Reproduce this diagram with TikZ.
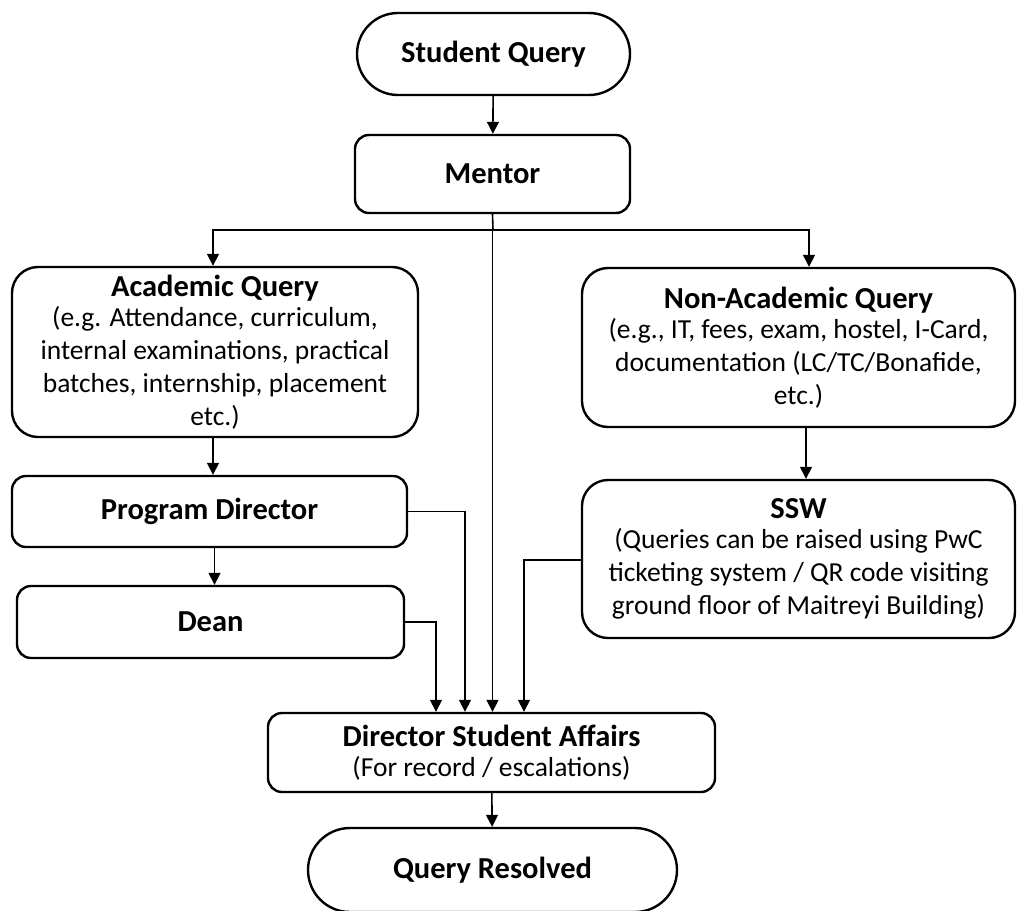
\documentclass[tikz,border=0pt]{standalone}
\usepackage{fontspec}
\setmainfont{Carlito}
\usetikzlibrary{arrows.meta,shapes.misc}

\newcommand{\hd}[1]{{\fontsize{30.5}{34}\selectfont\bfseries #1}}

\begin{document}
\begin{tikzpicture}[x=1pt, y=-1pt, font=\fontsize{27.5}{33}\selectfont,
  box/.style={draw, line width=2.4pt, rounded corners=14pt, align=center, inner sep=0pt},
  bigbox/.style={box, rounded corners=26pt},
  pill/.style={draw, line width=2.4pt, rounded rectangle, inner sep=0pt, font=\fontsize{30.5}{34}\selectfont\bfseries},
  link/.style={line width=1.6pt, -{Triangle[width=12pt,length=12pt]}}]
\useasboundingbox (0,0) rectangle (1019,910);

% boxes
\node[pill, minimum width=273pt, minimum height=82pt] (sq) at (493.5,54) {Student Query};
\node[box, minimum width=275pt, minimum height=78pt] (mentor) at (492.5,174) {\hd{Mentor}};
\node[bigbox, minimum width=406pt, minimum height=170pt] (acad) at (215,352)
  {\hd{Academic Query}\\[-3pt](e.g. Attendance, curriculum,\\internal examinations, practical\\batches, internship, placement\\etc.)};
\node[bigbox, minimum width=433pt, minimum height=159pt] (nonacad) at (798.5,347.5)
  {\hd{Non-Academic Query}\\[-3pt](e.g., IT, fees, exam, hostel, I-Card,\\documentation (LC/TC/Bonafide,\\etc.)};
\node[box, minimum width=395pt, minimum height=71pt] (pd) at (209.5,511.5) {\hd{Program Director}};
\node[box, minimum width=387pt, minimum height=72pt] (dean) at (210.5,622) {\hd{Dean}};
\node[bigbox, minimum width=433pt, minimum height=158pt] (ssw) at (798.5,559)
  {\hd{SSW}\\[-3pt](Queries can be raised using PwC\\ticketing system / QR code visiting\\ground floor of Maitreyi Building)};
\node[box, minimum width=447pt, minimum height=79pt] (dsa) at (491.5,752.5)
  {\hd{Director Student Affairs}\\[-3pt](For record / escalations)};
\node[pill, minimum width=369pt, minimum height=84pt] (qr) at (492.5,870) {Query Resolved};

% connectors
\coordinate (split) at (493,230);
\draw[link] (sq) -- (mentor);
\draw[line width=1.6pt] (mentor.south) -- (split);
\draw[link] (split) -| ([xshift=-2pt]acad.north);
\draw[link] (split) -| ([xshift=10.5pt]nonacad.north);
\draw[link] (mentor.south) -- (mentor.south |- dsa.north);
\draw[link] ([xshift=-2pt]acad.south) -- ([xshift=-2pt]acad.south |- pd.north);
\draw[link] ([xshift=5pt]pd.south) -- ([xshift=5pt]pd.south |- dean.north);
\draw[link] ([xshift=7.5pt]nonacad.south) -- ([xshift=7.5pt]nonacad.south |- ssw.north);
\draw[link] (pd.east) -| ([xshift=-26.5pt]dsa.north);
\draw[link] (dean.east) -| ([xshift=-55.5pt]dsa.north);
\draw[link] ([yshift=-1pt]ssw.west) -| ([xshift=32.5pt]dsa.north);
\draw[link] (dsa) -- (qr);
\end{tikzpicture}
\end{document}
